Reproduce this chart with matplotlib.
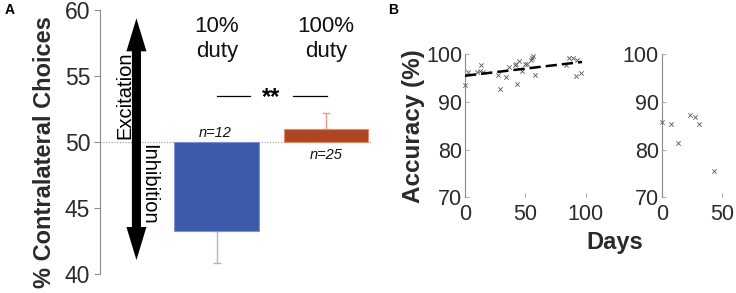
import numpy as np
import matplotlib
matplotlib.use("Agg")
from matplotlib import pyplot as plt

plt.rcParams["font.family"] = ["Liberation Sans", "DejaVu Sans"]

# panel A data
conditions = ["10%\nduty", "100%\nduty"]
choice_mean = [43.25, 50.98]
choice_err = [2.45, 1.2]
n_labels = ["n=12", "n=25"]
bar_colors = ["#3b5aaa", "#ad4622"]
edge_colors = ["#7b93d4", "#e58a6a"]
err_colors = ["#a9b5dd", "#e29a80"]

# panel B data (days, accuracy %)
days_1 = [0, 2.5, 9.6, 12.4, 13.5, 14.6, 27, 29.3, 34.3, 36.3, 41.3, 42.2, 43.1,
          44.4, 47, 49.6, 51.1, 54.4, 55.5, 56, 58.2, 83.4, 86, 89.2, 93.2, 92.2, 96.4]
acc_1 = [93.6, 96.2, 96.3, 96.4, 97.8, 96.3, 95.7, 92.7, 95.3, 97.3, 97.7, 98.0, 93.8,
         98.6, 96.6, 98.0, 98.0, 98.9, 99.2, 99.6, 95.6, 97.7, 99.2, 99.3, 98.9, 95.5, 96.1]
fit_days = [0, 97]
fit_acc = [95.5, 98.4]

days_2 = [0, 8, 13.8, 23.8, 27.6, 30.8, 43.5]
acc_2 = [85.7, 85.3, 81.3, 87.2, 86.9, 85.4, 75.5]

W, H = 736, 293
fig = plt.figure(figsize=(W / 100, H / 100), dpi=100)

gray = "#8c8c8c"
txt = "#2a2a2a"

# ---------- panel A ----------
axA = fig.add_axes([100 / W, 1 - 274 / H, 272 / W, 264 / H])
xpos = np.array([1, 2])
axA.set_xlim(1 - 117 / 109.5, 2 + 46 / 109.5)
axA.set_ylim(40, 60)
axA.axhline(50, color="#9a9a9a", lw=0.8, ls=(0, (1, 1.5)), zorder=0)
axA.bar(xpos, np.array(choice_mean) - 50, bottom=50, width=0.775,
        color=bar_colors, edgecolor=edge_colors, lw=0.8, zorder=2)
for i in range(2):
    d = choice_mean[i] - 50
    axA.errorbar(xpos[i], choice_mean[i], yerr=[[choice_err[i] if d < 0 else 0],
                                                [choice_err[i] if d > 0 else 0]],
                 color=err_colors[i], lw=1, capsize=3, capthick=1, zorder=1)
for i, c in enumerate(conditions):
    axA.text(xpos[i], 57.8, c, ha="center", va="center", fontsize=16,
             color="#111111", linespacing=1.2)
axA.text(0.985, 50.7, n_labels[0], ha="center", va="center", fontsize=10.5,
         style="italic", color="#111111")
axA.text(2.0, 49.0, n_labels[1], ha="center", va="center", fontsize=10.5,
         style="italic", color="#111111")

# significance
axA.plot([1.0, 1.30], [53.5, 53.5], color="black", lw=0.9)
axA.plot([1.70, 2.01], [53.5, 53.5], color="black", lw=0.9)
axA.text(1.5, 53.35, "**", ha="center", va="center", fontsize=17,
         fontweight="bold", color="black")

# double arrow
ax_x = 1 - (217 - 136.5) / 109.5
axA.arrow(ax_x, 50, 0, 59.37 - 50, width=0.083, head_width=0.183, head_length=2.5,
          length_includes_head=True, color="black", lw=0, zorder=3)
axA.arrow(ax_x, 50, 0, 41.06 - 50, width=0.083, head_width=0.183, head_length=2.5,
          length_includes_head=True, color="black", lw=0, zorder=3)
axA.text(ax_x - 0.105, 53.56, "Excitation", rotation=90, ha="center", va="center",
         fontsize=14.5, color="black")
axA.text(ax_x + 0.115, 46.8, "Inhibition", rotation=270, ha="center", va="center",
         fontsize=14.5, color="black")

for s in ["top", "right", "bottom"]:
    axA.spines[s].set_visible(False)
axA.spines["left"].set_color(gray)
axA.set_xticks([])
axA.set_yticks([40, 45, 50, 55, 60])
axA.tick_params(axis="y", direction="out", length=4, color=gray, labelsize=16.5,
                labelcolor=txt, pad=3)
axA.set_ylabel("% Contralateral Choices", fontsize=17, fontweight="bold",
               color=txt)
axA.yaxis.set_label_coords(-0.16, 0.46)
fig.text(5 / W, 1 - 10 / H, "A", fontsize=10, fontweight="bold", va="center")

# ---------- panel B ----------
def style_b(ax, xt):
    ax.set_xlim(0, 100)
    ax.set_ylim(70, 100)
    for s in ["top", "right", "bottom"]:
        ax.spines[s].set_visible(False)
    ax.spines["left"].set_color(gray)
    ax.set_xticks(xt)
    ax.set_yticks([70, 80, 90, 100])
    ax.tick_params(direction="in", length=3, color="#b0b0b0", labelsize=15.5,
                   labelcolor=txt)
    ax.tick_params(axis="y", pad=2)
    ax.tick_params(axis="x", pad=5)
    ax.patch.set_alpha(0)

bw = 120.7 / W
axB1 = fig.add_axes([465 / W, 1 - 197.3 / H, bw, 143 / H])
axB1.scatter(days_1, acc_1, marker="x", s=10, color="#5a5a5a", lw=0.6,
             clip_on=False, zorder=3)
axB1.plot(fit_days, fit_acc, color="black", lw=1.8, ls=(0, (4.5, 2)), zorder=4)
style_b(axB1, [0, 50, 100])
axB1.set_ylabel("Accuracy (%)", fontsize=17.5, fontweight="bold", color=txt,
                labelpad=1)

axB2 = fig.add_axes([661.7 / W, 1 - 197.3 / H, bw, 143 / H])
axB2.scatter(days_2, acc_2, marker="x", s=10, color="#5a5a5a", lw=0.6,
             clip_on=False, zorder=3)
style_b(axB2, [0, 50])

fig.text(615 / W, 1 - 243 / H, "Days", fontsize=17, fontweight="bold",
         color=txt, ha="center", va="center")
fig.text(388 / W, 1 - 10 / H, "B", fontsize=10, fontweight="bold", va="center")

fig.savefig("out.png", dpi=100)
